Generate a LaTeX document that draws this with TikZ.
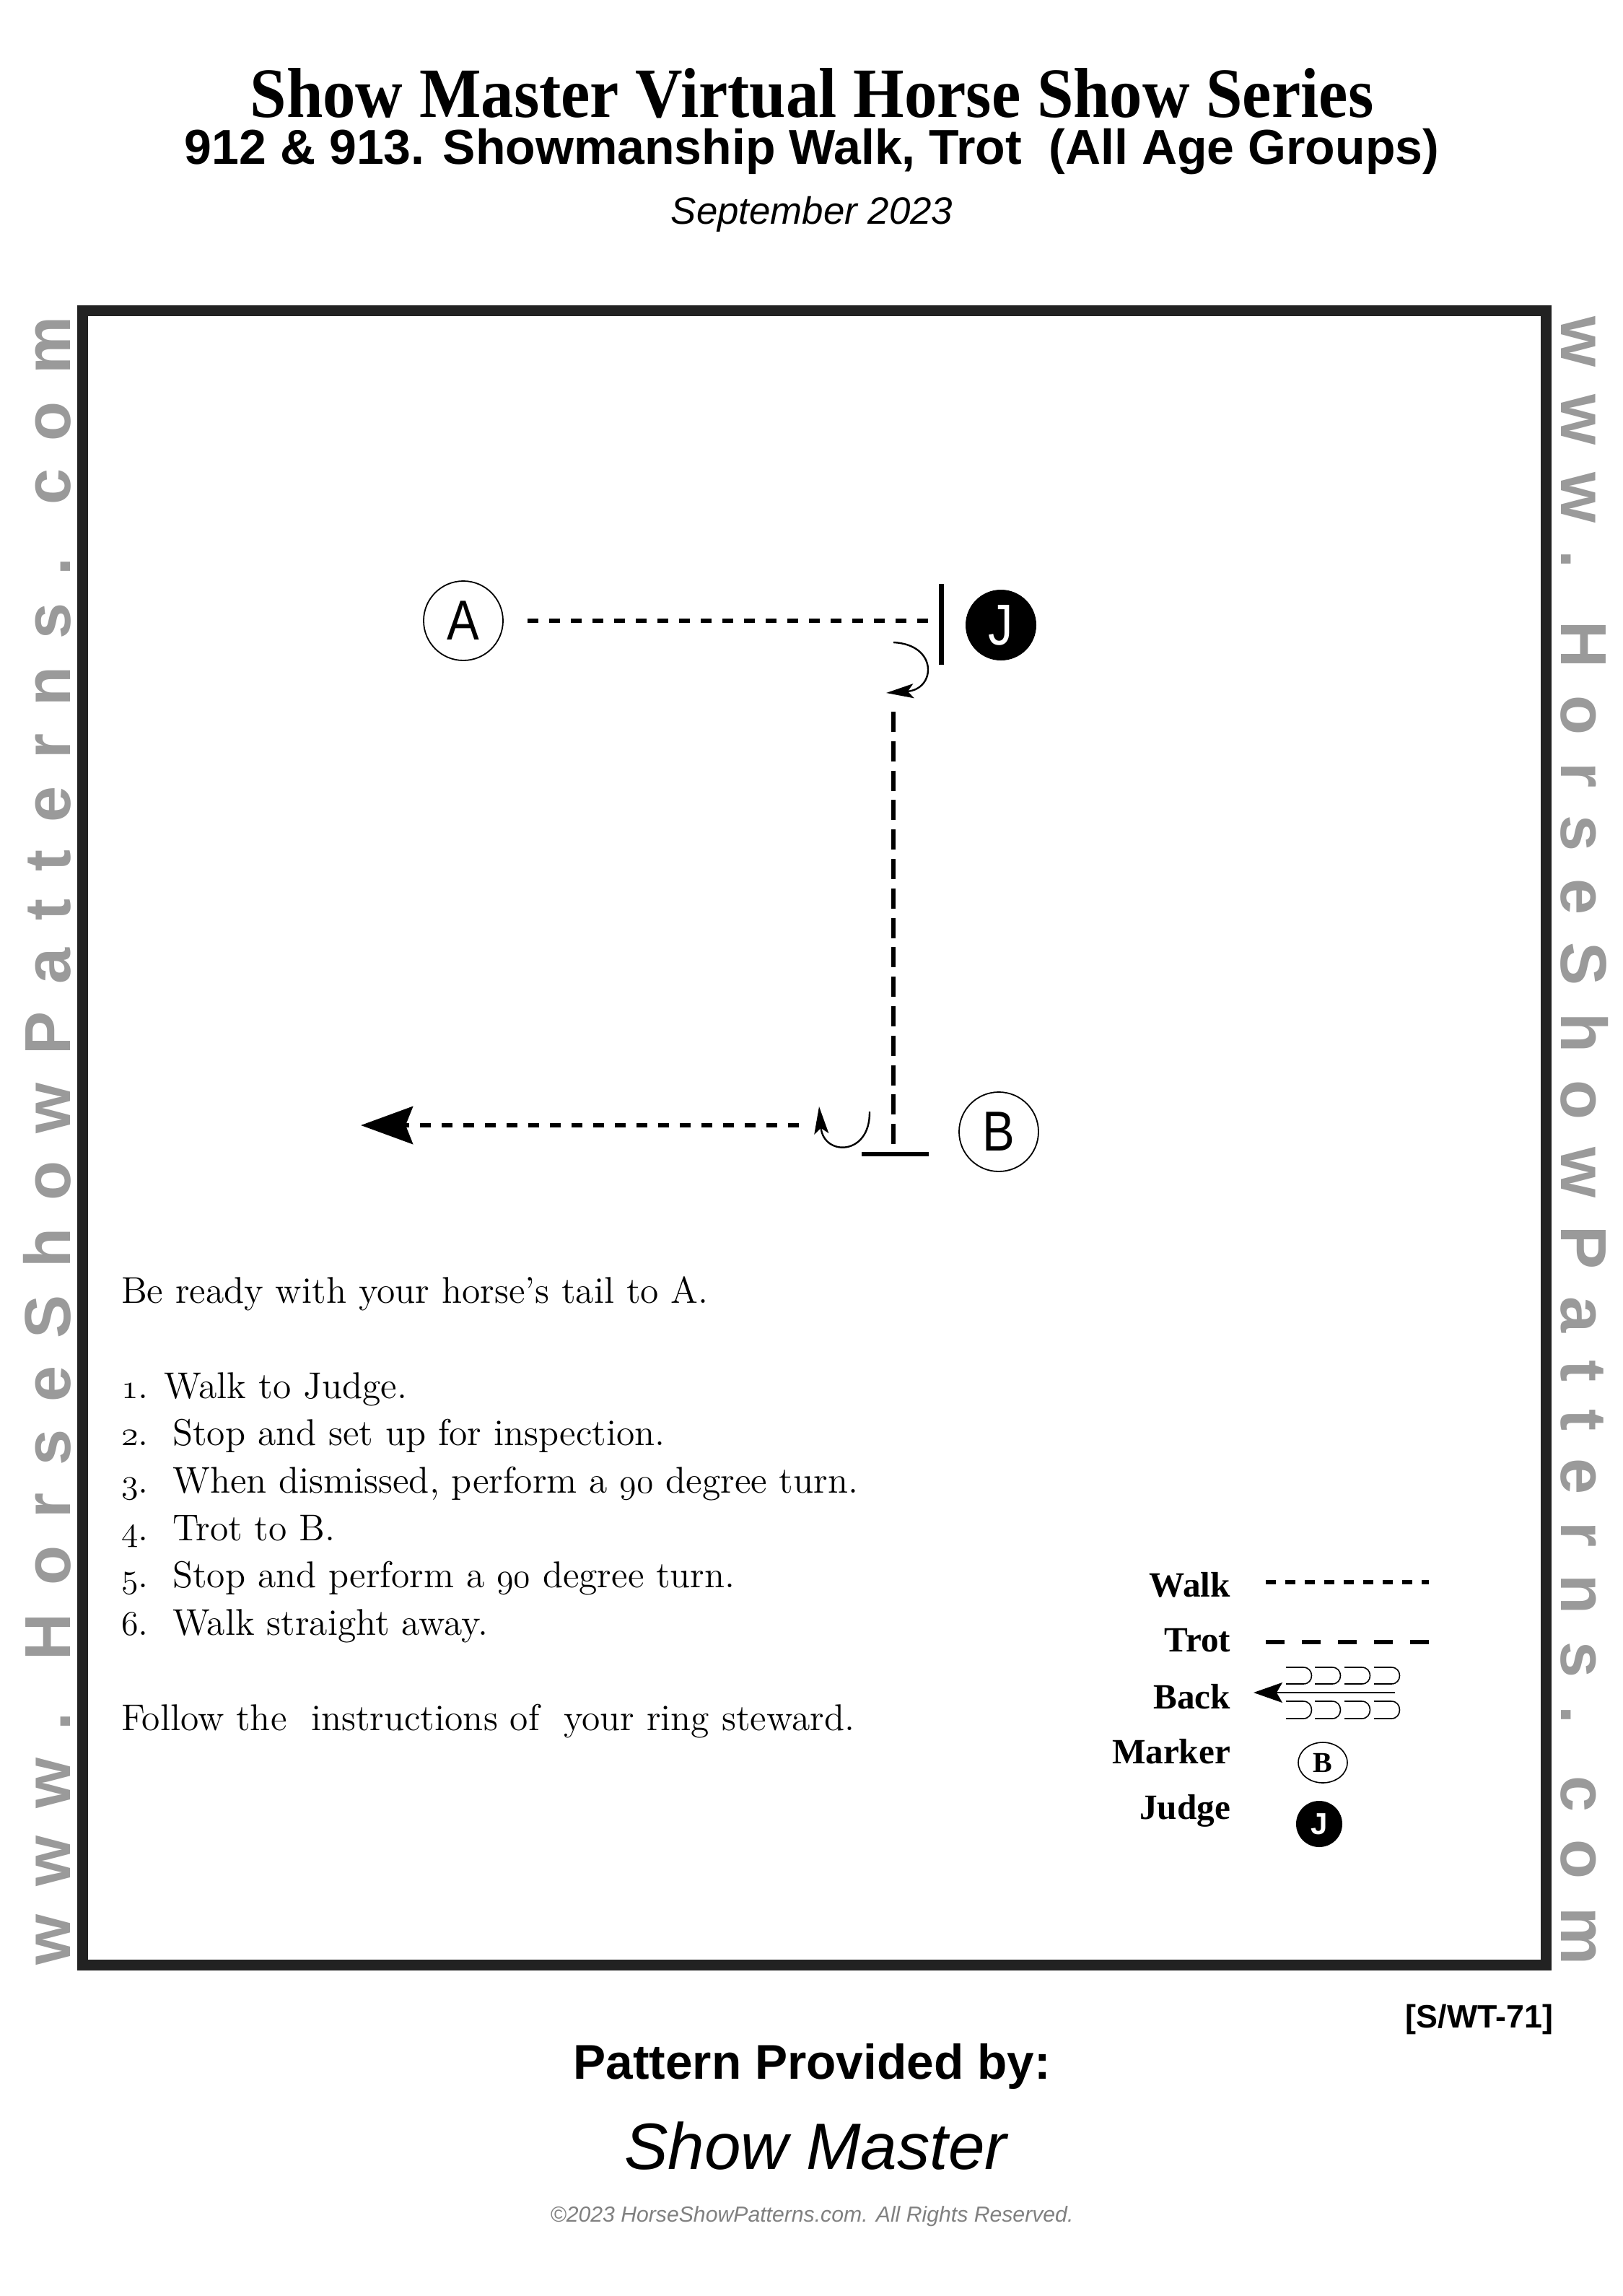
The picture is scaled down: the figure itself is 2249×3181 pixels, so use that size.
\documentclass[tikz,border=0pt]{standalone}
\usepackage{fontspec}
\usepackage{tikz}
\usetikzlibrary{arrows.meta, positioning, calc, shapes.geometric}
\newfontfamily\arialfont{Liberation Sans}
\newfontfamily\timesfont{Liberation Serif}
\definecolor{framegray}{HTML}{222222}
\definecolor{markgray}{HTML}{9A9A9A}
\definecolor{notegray}{HTML}{808080}
\newcommand\osnum[1]{{\usefont{OML}{cmm}{m}{it}#1}}
\newcommand\narrow[1]{\scalebox{0.86}[1]{#1}}

\begin{document}
\begin{tikzpicture}[
    x=0.25pt, y=-0.25pt,
    every node/.style={inner sep=0pt, outer sep=0pt},
    marker/.style={circle, draw, line width=0.45pt, minimum size=27.5pt, font=\arialfont\fontsize{19.5}{20}\selectfont},
    judge/.style={circle, fill=black, minimum size=24.5pt, text=white, font=\arialfont\fontsize{20}{20}\selectfont},
    walk/.style={line width=1.6pt, dash pattern=on 3.75pt off 3.75pt},
    trot/.style={line width=1.5pt, dash pattern=on 7pt off 3.2pt},
    stopbar/.style={line width=1.75pt},
    turn/.style={line width=0.6pt, -{Stealth[length=9.5pt, width=5pt, inset=2pt]}},
    hook/.style={line width=0.4pt},
    keylbl/.style={anchor=base east, font=\timesfont\bfseries\fontsize{12.3}{13}\selectfont},
    steps/.style={anchor=base west, font=\fontsize{12.9}{14}\selectfont},
    webmark/.style={text=markgray, font=\arialfont\bfseries\fontsize{22.5}{24}\selectfont}
]
\useasboundingbox (0,0) rectangle (2249,3181);

% Heading
\node[anchor=base, text depth=0pt, font=\timesfont\bfseries\fontsize{24.5}{28}\selectfont] (title) at (1125,162) {\scalebox{0.926}[1]{Show Master Virtual Horse Show Series}};
\node[anchor=base, font=\arialfont\bfseries\fontsize{17}{18}\selectfont] (class) at (1125,227) {912 \& 913. Showmanship Walk, Trot\ \ (All Age Groups)};
\node[anchor=base, font=\arialfont\itshape\fontsize{13.2}{16}\selectfont] (date) at (1125,310) {September 2023};

% Arena frame and side marks
\draw[framegray, line width=3.75pt] (114.5,430.5) rectangle (2142.5,2722.5);
\node[webmark, rotate=90, anchor=base] (webleft) at (97,1580) {\makebox[571pt][s]{w w w . H o r s e S h o w P a t t e r n s . c o m}};
\node[webmark, rotate=-90, anchor=base] (webright) at (2163,1580) {\makebox[571pt][s]{w w w . H o r s e S h o w P a t t e r n s . c o m}};

% Pattern
\node[marker] (markA) at (642,860) {\narrow{A}};
\node[judge] (judge) at (1387,866) {\narrow{J}};
\node[marker] (markB) at (1384,1568) {\narrow{B}};

\coordinate (stopJ) at (1304,865);
\coordinate (stopB) at (1240,1599);
\coordinate (trotstart) at (1238,986);
\coordinate (exitstart) at (1107,1559);
\coordinate (exitend) at (500,1559);

\draw[walk, shorten <=8.5pt, shorten >=4.5pt] (markA.east) -- (markA.east -| stopJ);
\draw[stopbar] ($(stopJ)+(0,-56)$) -- ($(stopJ)+(0,56)$);
\draw[turn] (1238,890) .. controls (1300,893) and (1297,955) .. (1228,960);

\draw[trot] (trotstart) -- (trotstart |- 0,1585);
\draw[stopbar, line width=1.5pt] ($(stopB)+(-46,0)$) -- ($(stopB)+(47,0)$);
\draw[turn] (1205,1540) .. controls (1206,1602) and (1141,1602) .. (1135,1533);

\draw[walk, -{Stealth[length=18pt, width=13pt, inset=2.5pt]}] (exitstart) -- (exitend);

% Instructions
\node[steps] (intro) at (168,1805) {Be ready with your horse’s tail to A.};
\node[steps] (s1) at (168,1937) {\osnum{1}. Walk to Judge.};
\node[steps] (s2) at (168,2002) {\osnum{2}.\ \ Stop and set up for inspection.};
\node[steps] (s3) at (168,2068) {\osnum{3}.\ \ When dismissed, perform a \osnum{90} degree turn.};
\node[steps] (s4) at (168,2134) {\osnum{4}.\ \ Trot to B.};
\node[steps] (s5) at (168,2199) {\osnum{5}.\ \ Stop and perform a \osnum{90} degree turn.};
\node[steps] (s6) at (168,2265) {\osnum{6}.\ \ Walk straight away.};
\node[steps] (outro) at (168,2397) {Follow the\ \ instructions of\ \ your ring steward.};

% Legend
\node[keylbl] (kwalk) at (1705,2212) {Walk};
\node[keylbl] (ktrot) at (1705,2288) {Trot};
\node[keylbl] (kback) at (1705,2367) {Back};
\node[keylbl] (kmark) at (1705,2443) {Marker};
\node[keylbl] (kjudge) at (1705,2520) {Judge};

\draw[walk, line width=1.5pt, dash pattern=on 3.5pt off 3.25pt] (1754,2192) -- (1980,2192);
\draw[trot, dash pattern=on 6.5pt off 6pt] (1754,2275) -- (1980,2275);
\draw[hook, -{Stealth[length=10pt, width=7pt, inset=2pt]}] (1933,2345) -- (1737,2345);
\foreach \hx in {1782,1822,1863,1904} {
  \draw[hook] (\hx,2310) -- ++(24,0) .. controls +(15.3,0) and +(15.3,0) .. ++(0,23) -- ++(-24,0);
  \draw[hook] (\hx,2357) -- ++(24,0) .. controls +(15.3,0) and +(15.3,0) .. ++(0,24) -- ++(-24,0);
}
\node[ellipse, draw, line width=0.4pt, minimum width=17pt, minimum height=14pt, font=\timesfont\bfseries\fontsize{10}{10}\selectfont] (keyB) at (1833,2442) {B};
\node[judge, minimum size=16pt, font=\arialfont\bfseries\fontsize{10.5}{10}\selectfont] (keyJ) at (1828,2527) {J};

% Footer
\node[anchor=base east, font=\arialfont\bfseries\fontsize{11.2}{12}\selectfont] (code) at (2152,2809) {[S/WT-71]};
\node[anchor=base, font=\arialfont\bfseries\fontsize{16.9}{18}\selectfont] (provided) at (1125,2880) {Pattern Provided by:};
\node[anchor=base, font=\arialfont\itshape\fontsize{22.7}{24}\selectfont] (sponsor) at (1130,3005) {Show Master};
\node[anchor=base, text=notegray, font=\arialfont\itshape\fontsize{7.55}{8}\selectfont] (rights) at (1125,3078) {©2023 HorseShowPatterns.com. All Rights Reserved.};

\end{tikzpicture}
\end{document}
